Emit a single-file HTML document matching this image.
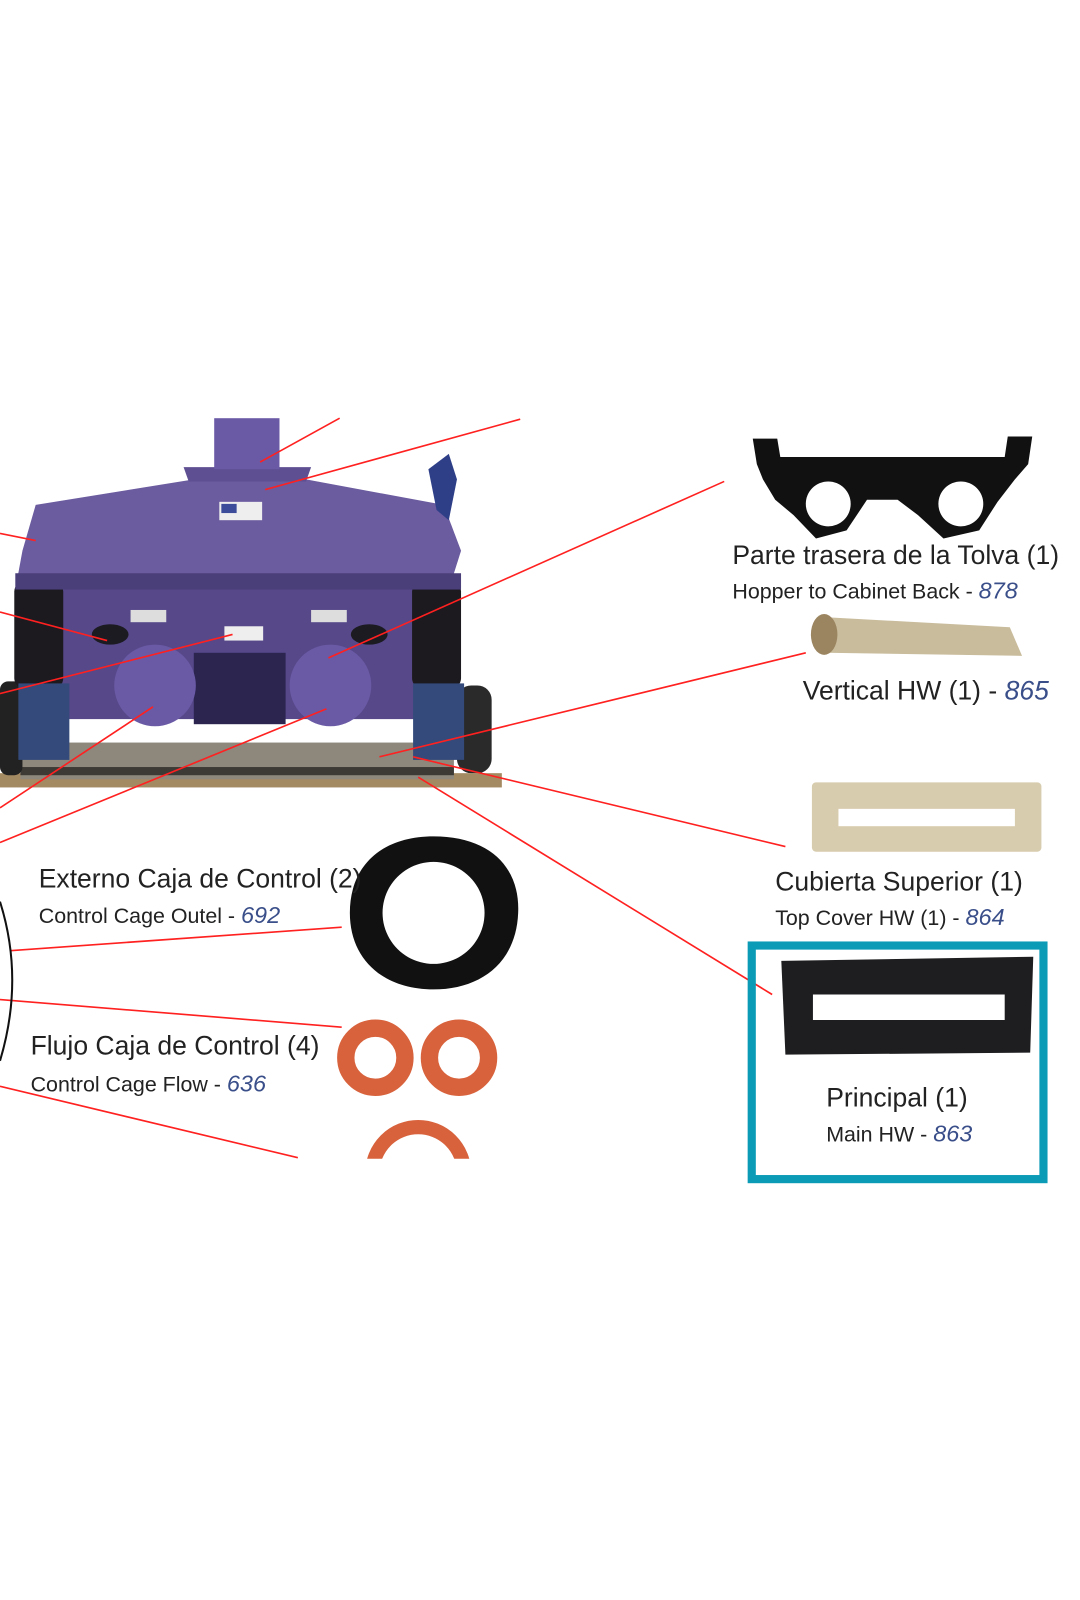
<!DOCTYPE html>
<html><head><meta charset="utf-8"><style>
html,body{margin:0;padding:0;background:#fff;}
svg{display:block;}
text{font-family:"Liberation Sans",sans-serif;}
</style></head><body>
<svg width="1080" height="1600" viewBox="0 0 1080 1600" xmlns="http://www.w3.org/2000/svg">
<rect width="1080" height="1600" fill="#fff"/>
<g transform="scale(1.02)">
<!-- machine -->
<rect x="0" y="758" width="492" height="14" fill="#a48a62"/>
<rect x="20" y="728" width="425" height="36" fill="#8d877c"/>
<rect x="20" y="752" width="425" height="8" fill="#3d3a36"/>
<rect x="0" y="668" width="22" height="92" rx="8" fill="#222"/>
<rect x="448" y="672" width="34" height="86" rx="14" fill="#2a2a2a"/>
<rect x="60" y="575" width="350" height="130" fill="#564889"/>
<rect x="190" y="640" width="90" height="70" fill="#2c2550"/>
<rect x="14" y="570" width="48" height="105" rx="10" fill="#1c1a1e"/>
<rect x="404" y="570" width="48" height="105" rx="10" fill="#1c1a1e"/>
<rect x="18" y="670" width="50" height="75" fill="#334a7a"/>
<rect x="405" y="670" width="50" height="75" fill="#334a7a"/>
<circle cx="152" cy="672" r="40" fill="#6a5aa6"/>
<circle cx="324" cy="672" r="40" fill="#6a5aa6"/>
<polygon points="35,495 190,470 300,470 435,495 452,540 440,578 15,578 22,540" fill="#6b5b9f"/>
<rect x="15" y="562" width="437" height="16" fill="#4b3f7a"/>
<polygon points="180,458 305,458 300,472 185,472" fill="#5e4f92"/>
<rect x="210" y="410" width="64" height="50" fill="#6a5aa6"/>
<rect x="215" y="492" width="42" height="18" fill="#eee"/>
<rect x="217" y="494" width="15" height="9" fill="#3c4c9a"/>
<rect x="128" y="598" width="35" height="12" fill="#ddd"/>
<rect x="305" y="598" width="35" height="12" fill="#ddd"/>
<rect x="220" y="614" width="38" height="14" fill="#eee"/>
<ellipse cx="108" cy="622" rx="18" ry="10" fill="#1d1b22"/>
<ellipse cx="362" cy="622" rx="18" ry="10" fill="#1d1b22"/>
<path d="M420,460 L440,445 L448,470 L440,510 L428,500 Z" fill="#2e3f88"/>
<!-- red lines -->
<g stroke="#ff2020" stroke-width="1.6" fill="none">
<line x1="255" y1="453" x2="333" y2="410"/>
<line x1="260" y1="480" x2="510" y2="411"/>
<line x1="0" y1="523" x2="35" y2="530"/>
<line x1="0" y1="600" x2="105" y2="628"/>
<line x1="0" y1="680" x2="228" y2="622"/>
<line x1="322" y1="645" x2="710" y2="472"/>
<line x1="0" y1="792" x2="150" y2="693"/>
<line x1="0" y1="826" x2="320" y2="695"/>
<line x1="372" y1="742" x2="790" y2="640"/>
<line x1="405" y1="742" x2="770" y2="830"/>
<line x1="410" y1="762" x2="757" y2="975"/>
<line x1="10" y1="932" x2="335" y2="909"/>
<line x1="0" y1="980" x2="335" y2="1007"/>
<line x1="0" y1="1065" x2="292" y2="1135"/>
</g>
<!-- bracket -->
<polygon points="738,430 762,430 765,448 985,448 988,428 1012,428 1008,455 995,470 978,492 960,520 925,528 900,505 880,490 850,490 830,520 800,528 778,505 760,490 748,470 742,455" fill="#111"/>
<circle cx="812" cy="494" r="22" fill="#fff"/>
<circle cx="942" cy="494" r="22" fill="#fff"/>
<!-- roll -->
<polygon points="808,605 990,615 1002,643 810,640" fill="#c9bc9c"/>
<ellipse cx="808" cy="622" rx="13" ry="20" fill="#9b8460"/>
<!-- tan plate -->
<rect x="796" y="767" width="225" height="68" rx="4" fill="#d8ccae"/>
<rect x="822" y="793" width="173" height="17" fill="#fff"/>
<!-- teal box -->
<rect x="737" y="927" width="286" height="229" fill="none" stroke="#0b9bb6" stroke-width="8"/>
<polygon points="766,942 1013,938 1010,1032 770,1034" fill="#1e1e20"/>
<rect x="797" y="975" width="188" height="25" fill="#fff"/>
<!-- black gasket -->
<path fill-rule="evenodd" fill="#111" d="M425,820 C480,820 510,850 508,895 C506,945 470,970 425,970 C375,970 343,940 343,895 C343,848 375,820 425,820 Z M425,845 A50,50 0 1,0 425.1,845 Z"/>
<!-- orange rings -->
<g fill="none" stroke="#d8623c" stroke-width="17">
<circle cx="368" cy="1037" r="29"/>
<circle cx="450" cy="1037" r="29"/>
</g>
<clipPath id="c"><rect x="300" y="1090" width="200" height="46"/></clipPath>
<circle cx="410" cy="1150" r="45" fill="none" stroke="#d8623c" stroke-width="14" clip-path="url(#c)"/>
<path d="M0,884 Q24,960 0,1040" fill="none" stroke="#111" stroke-width="2"/>
<!-- texts -->
<g fill="#222">
<text x="718" y="553" font-size="26">Parte trasera de la Tolva (1)</text>
<text x="718" y="587" font-size="21">Hopper to Cabinet Back - <tspan font-style="italic" fill="#3a4f8a" font-size="23">878</tspan></text>
<text x="787" y="686" font-size="26">Vertical HW (1) - <tspan font-style="italic" fill="#3a4f8a">865</tspan></text>
<text x="760" y="873" font-size="26">Cubierta Superior (1)</text>
<text x="760" y="907" font-size="21">Top Cover HW (1) - <tspan font-style="italic" fill="#3a4f8a" font-size="23">864</tspan></text>
<text x="810" y="1085" font-size="26">Principal (1)</text>
<text x="810" y="1119" font-size="21">Main HW  - <tspan font-style="italic" fill="#3a4f8a" font-size="23">863</tspan></text>
<text x="38" y="870" font-size="26">Externo Caja de Control (2)</text>
<text x="38" y="905" font-size="21">Control Cage Outel - <tspan font-style="italic" fill="#3a4f8a" font-size="23">692</tspan></text>
<text x="30" y="1034" font-size="26">Flujo Caja de Control (4)</text>
<text x="30" y="1070" font-size="21">Control Cage Flow - <tspan font-style="italic" fill="#3a4f8a" font-size="23">636</tspan></text>
</g>
</g>
</svg>
</body></html>
